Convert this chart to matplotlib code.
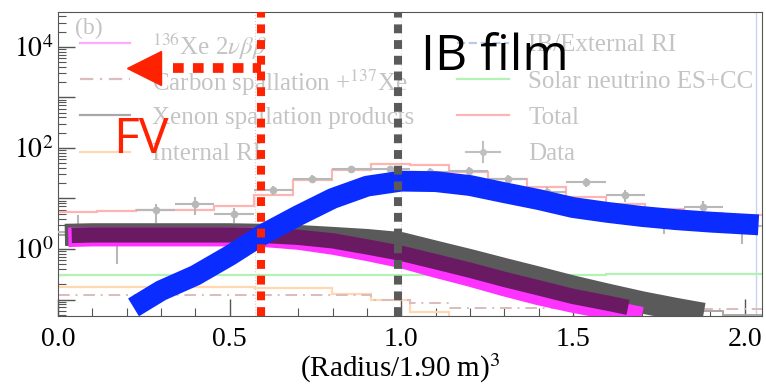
import numpy as np
import matplotlib
matplotlib.use("Agg")
import matplotlib.pyplot as plt
from matplotlib.ticker import LogLocator, FuncFormatter, MultipleLocator, NullFormatter

plt.rcParams["font.family"] = ["Liberation Serif", "DejaVu Serif"]
plt.rcParams["mathtext.fontset"] = "stix"

# binning of the (faded) ROOT histograms
X_MAX = 2.05
N_BINS = 18
edges = np.linspace(0, X_MAX, N_BINS + 1)
centers = 0.5 * (edges[1:] + edges[:-1])

# faded background histograms, one value per bin
total_vals = [5.3, 5.6, 5.8, 5.8, 7.2, 11.5, 23, 37, 48, 46, 34, 24, 16.6, 10.5, 7.8, 6.1, 5.2, 4.7]
solar_vals = [0.30, 0.30, 0.30, 0.30, 0.30, 0.31, 0.31, 0.31, 0.31, 0.31, 0.31, 0.31, 0.31, 0.31, 0.32, 0.32, 0.32, 0.32]
internal_vals = [0.176, 0.176, 0.175, 0.175, 0.174, 0.173, 0.172, 0.13, 0.096, 0.056, 0.03, 0.03, 0.03, 0.03, 0.03, 0.03, 0.03, 0.03]
carbon_vals = [0.125, 0.125, 0.125, 0.125, 0.125, 0.125, 0.125, 0.125, 0.10, 0.085, 0.069, 0.069, 0.068, 0.068, 0.067, 0.066, 0.065, 0.064]
xe_hist_vals = [1.85, 1.85, 1.85, 1.85, 1.85, 1.85, 1.8, 1.6, 1.3, 0.9, 0.6, 0.4, 0.26, 0.17, 0.12, 0.085, 0.06, 0.05]

# data points with lower / upper end of error bars
data_vals = [2.2, 1.6, 5.8, 7.6, 5.0, 14.5, 23.7, 37.5, 37.5, 34, 35, 24, 13.4, 21, 11.5, 4.2, 6.7, 2.9]
data_lo = [1.4, 0.5, 3.3, 4.6, 3.3, 11.5, 20, 32, 32, 29, 30, 20, 10.5, 17, 8.5, 2.0, 5.0, 1.25]
data_hi = [4.6, 2.2, 7.9, 10.5, 6.6, 18, 29, 44, 44, 40, 41, 29, 17, 25, 14.5, 6.3, 9.1, 4.5]

# highlighted bands drawn over the figure
ib_x = [0.22, 0.30, 0.40, 0.50, 0.60, 0.70, 0.80, 0.90, 1.00, 1.10, 1.20, 1.30, 1.40, 1.50, 1.60, 1.70, 1.80, 1.90, 2.04]
ib_y = [0.07, 0.15, 0.30, 0.74, 2.0, 4.6, 10, 17.5, 22, 21.5, 18, 13, 9.5, 6.6, 5.3, 4.4, 3.8, 3.4, 3.0]

xs_x = [0.02, 0.1, 0.2, 0.3, 0.4, 0.5, 0.6, 0.7, 0.8, 0.9, 1.0, 1.1, 1.2, 1.3, 1.4, 1.5, 1.6, 1.7, 1.8, 1.88]
xs_y = [1.9, 1.95, 1.95, 1.95, 1.95, 1.95, 1.9, 1.8, 1.65, 1.5, 1.3, 0.88, 0.6, 0.4, 0.27, 0.18, 0.125, 0.088, 0.065, 0.052]

bb_x = [0.03, 0.1, 0.2, 0.3, 0.4, 0.5, 0.6, 0.7, 0.8, 0.9, 1.0, 1.1, 1.2, 1.3, 1.4, 1.5, 1.6, 1.7]
bb_y = [1.7, 1.75, 1.75, 1.75, 1.75, 1.75, 1.7, 1.5, 1.2, 0.9, 0.65, 0.42, 0.28, 0.18, 0.12, 0.085, 0.063, 0.046]

ov_x = [0.04, 0.1, 0.2, 0.3, 0.4, 0.5, 0.6, 0.7, 0.8, 0.9, 1.0, 1.1, 1.2, 1.3, 1.4, 1.5, 1.6, 1.66]
ov_y = [1.85, 1.9, 1.9, 1.9, 1.9, 1.9, 1.85, 1.7, 1.45, 1.1, 0.82, 0.56, 0.38, 0.25, 0.17, 0.115, 0.085, 0.07]

legend_labels = [r"$^{136}$Xe 2$\nu\beta\beta$", r"Carbon spallation +$^{137}$Xe",
                 "Xenon spallation products", "Internal RI",
                 "IB/External RI", "Solar neutrino ES+CC", "Total", "Data"]
legend_colors = ["#ffaaff", "#dcbcbc", "#a8a8a8", "#ffd8b0",
                 "#b8cce8", "#b4f2b4", "#ffb4b4", "#c0c0c0"]
legend_styles = ["-", (0, (6, 3, 1, 3)), "-", "-", "--", "-", "-", None]

FV_CUT = 0.59
IB_CUT = 0.99
RED = "#ff2200"
LEG_GRAY = "#c4c4c4"

fig = plt.figure(figsize=(7.66, 3.84), dpi=100)
ax = fig.add_axes([0.0757, 0.178, 0.919, 0.791])

# faded original plot
ax.stairs(total_vals, edges, baseline=None, color="#ffb4b4", lw=1.6, zorder=2)
ax.stairs(solar_vals, edges, baseline=None, color="#b4f2b4", lw=1.6, zorder=2)
ax.stairs(internal_vals, edges, baseline=None, color="#ffd8b0", lw=1.6, zorder=2)
ax.stairs(carbon_vals, edges, baseline=None, color="#dcbcbc", lw=1.4, ls=(0, (6, 3, 1, 3)), zorder=2)
ax.stairs(xe_hist_vals, edges, baseline=None, color="#a8a8a8", lw=1.4, zorder=2)

d = np.array(data_vals)
yerr = [d - np.array(data_lo), np.array(data_hi) - d]
xerr = 0.5 * (edges[1] - edges[0])
ax.errorbar(centers, d, xerr=xerr, yerr=yerr, fmt="o", ms=4.5, color="#b8b8b8",
            elinewidth=1.5, capsize=0, zorder=3)

ax.axvline(0.573, color="#d0d0d0", lw=0.8, ls=":", zorder=1)
ax.axvline(1.0, color="#d0d8ec", lw=0.8, ls=":", zorder=1)
ax.axvline(2.032, color="#c8d4f0", lw=1.0, zorder=1)

# bands
ax.plot(xs_x, xs_y, color="#5a5a5a", lw=16, solid_capstyle="butt", zorder=4)
ax.plot(bb_x, bb_y, color="#ff33ff", lw=14, solid_capstyle="butt", zorder=5)
ax.plot(ov_x, ov_y, color="#6a1a62", lw=11, solid_capstyle="butt", zorder=6)
ax.plot(ib_x, ib_y, color="#0a2cff", lw=15, solid_capstyle="butt", zorder=7)

# FV / IB film markers
ax.axvline(FV_CUT, color=RED, lw=5.8, ls=(0, (1.1, 0.85)), zorder=9)
ax.axvline(IB_CUT, color="#5a5a5a", lw=5.8, ls=(0, (1.1, 0.85)), zorder=9)
ax.plot([0.335, FV_CUT], [3780, 3780], color=RED, lw=7, ls=(0, (1.1, 0.95)), zorder=9)
ax.plot([0.251], [3780], marker="<", ms=25, color=RED, zorder=9)
ax.text(0.16, 78.5, "FV", color=RED, fontsize=36, family="Open Sans", zorder=10)
ax.text(1.058, 3460, "IB film", color="black", fontsize=36, family="Open Sans", zorder=10)

# legend of the faded plot, two columns of four rows
tr = ax.transAxes
col_x = [(0.031, 0.102, 0.133), (0.567, 0.640, 0.668)]
for i, (lab, col, ls) in enumerate(zip(legend_labels, legend_colors, legend_styles)):
    c, r = divmod(i, 4)
    x0, x1, xt = col_x[c]
    y = 0.898 - r * 0.1195
    if ls is None:
        xm = 0.5 * (x0 + x1)
        ax.plot([x0 + 0.012, x1 - 0.012], [y, y], color=col, lw=1.5, transform=tr, zorder=3)
        ax.plot([xm, xm], [y - 0.033, y + 0.033], color=col, lw=1.5, transform=tr, zorder=3)
        ax.plot([xm], [y], marker="o", ms=4, color=col, transform=tr, zorder=3)
    else:
        ax.plot([x0, x1], [y, y], color=col, lw=1.6, ls=ls, transform=tr, zorder=3)
    ax.text(xt, y, lab, color=LEG_GRAY, fontsize=18, va="center_baseline", transform=tr, zorder=3)
ax.text(0.024, 0.98, "(b)", transform=tr, color=LEG_GRAY, fontsize=17, va="top", zorder=3)

ax.set_yscale("log")
ax.set_xlim(0, X_MAX)
ax.set_ylim(0.048, 4.9e4)
ax.xaxis.set_major_locator(MultipleLocator(0.5))
ax.xaxis.set_minor_locator(MultipleLocator(0.1))
ax.xaxis.set_major_formatter(FuncFormatter(lambda v, p: f"{v:.1f}"))
ax.yaxis.set_major_locator(LogLocator(base=10, numticks=20))
ax.yaxis.set_minor_locator(LogLocator(base=10, subs=np.arange(2, 10), numticks=20))
ax.yaxis.set_minor_formatter(NullFormatter())


def ylab(v, pos):
    e = int(round(np.log10(v)))
    return rf"$10^{{{e}}}$" if e % 2 == 0 else ""


ax.yaxis.set_major_formatter(FuncFormatter(ylab))
ax.tick_params(which="both", direction="in", colors="#555555", labelcolor="black", labelsize=20)
ax.tick_params(which="major", length=12, width=1)
ax.tick_params(which="minor", length=6, width=0.8)
ax.tick_params(axis="x", pad=8)
for s in ax.spines.values():
    s.set_color("#555555")
ax.set_xlabel(r"(Radius/1.90 m)$^3$", fontsize=21)
ax.xaxis.set_label_coords(0.486, -0.12)

fig.savefig("out.png", dpi=100)
